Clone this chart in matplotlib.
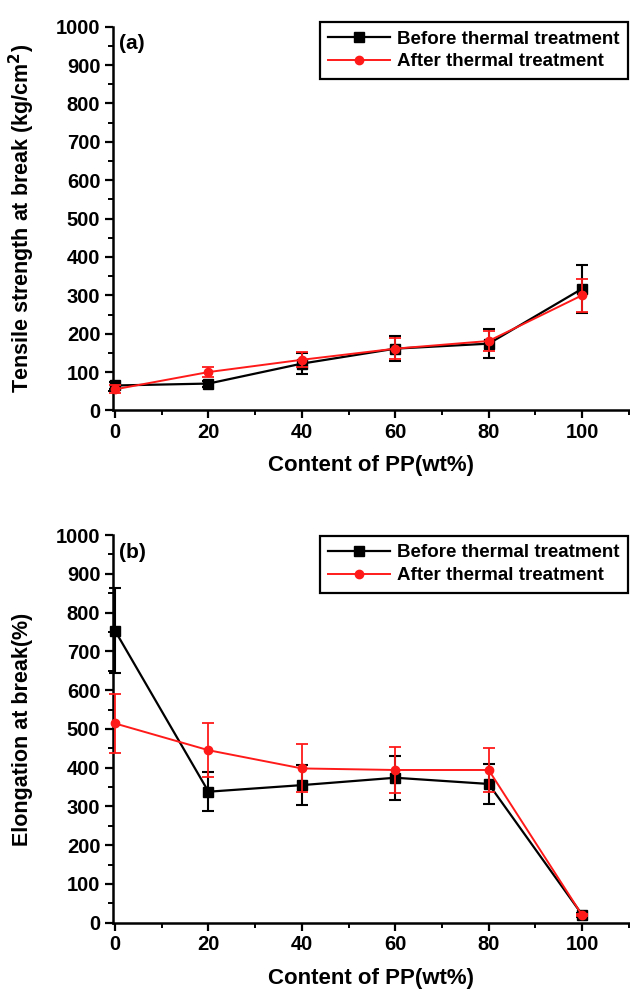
import numpy as np
import matplotlib
matplotlib.use("Agg")
import matplotlib.pyplot as plt
from matplotlib.ticker import MultipleLocator

plt.rcParams["font.family"] = ["Liberation Sans", "DejaVu Sans"]
plt.rcParams["font.weight"] = "bold"

# data
pp_content = [0, 20, 40, 60, 80, 100]

tensile_before = [65, 70, 122, 161, 174, 317]
tensile_before_err = [10, 8, 27, 32, 37, 63]
tensile_after = [55, 100, 132, 161, 181, 300]
tensile_after_err = [10, 13, 20, 28, 27, 43]

elong_before = [753, 338, 355, 374, 358, 21]
elong_before_err = [110, 50, 52, 57, 52, 5]
elong_after = [514, 445, 398, 394, 394, 20]
elong_after_err = [75, 70, 62, 60, 56, 3]

labels = ["Before thermal treatment", "After thermal treatment"]
x_ticks = [0, 20, 40, 60, 80, 100]
y_ticks = list(range(0, 1001, 100))


def style_axis(ax, ylabel, tag, ylab_x, xlab_y, legend_top, handles):
    ax.set_xlim(-0.5, 110)
    ax.set_ylim(0, 1000)
    ax.set_xticks(x_ticks)
    ax.set_yticks(y_ticks)
    ax.xaxis.set_minor_locator(MultipleLocator(10))
    ax.yaxis.set_minor_locator(MultipleLocator(50))
    for s in ["top", "right"]:
        ax.spines[s].set_visible(False)
    for s in ["left", "bottom"]:
        ax.spines[s].set_linewidth(1.8)
    ax.tick_params(which="major", direction="out", length=6, width=1.6,
                   labelsize=14.5, pad=3)
    ax.tick_params(which="minor", direction="out", length=3.5, width=1.4)
    for lab in ax.get_xticklabels() + ax.get_yticklabels():
        lab.set_fontweight("bold")
    ax.set_xlabel("Content of PP(wt%)", fontsize=16, fontweight="bold")
    ax.set_ylabel(ylabel, fontsize=15.5, fontweight="bold")
    ax.xaxis.set_label_coords(0.5, xlab_y)
    ax.yaxis.set_label_coords(ylab_x, 0.5)
    ax.text(0.012, 0.955, tag, transform=ax.transAxes, fontsize=15,
            fontweight="bold", va="center", ha="left")
    leg = ax.legend(handles, labels, loc="upper right",
                    bbox_to_anchor=(0.998, legend_top),
                    borderaxespad=0, fancybox=False, framealpha=1,
                    edgecolor="black", handlelength=3.3,
                    handletextpad=0.35, borderpad=0.45, labelspacing=0.3,
                    prop={"weight": "bold", "size": 13.5})
    leg.get_frame().set_linewidth(1.6)


def draw(ax, before, before_err, after, after_err):
    b = ax.errorbar(pp_content, before, yerr=before_err, color="black",
                    marker="s", markersize=7, linewidth=1.6, capsize=4,
                    capthick=1.5, elinewidth=1.5, clip_on=False, zorder=3)
    a = ax.errorbar(pp_content, after, yerr=after_err, color="#ff1a1a",
                    marker="o", markersize=6, linewidth=1.4, capsize=4,
                    capthick=1.3, elinewidth=1.3, clip_on=False, zorder=4)
    return [b[0], a[0]]


fig = plt.figure(figsize=(6.3, 9.89), dpi=100)
ax1 = fig.add_axes([0.179, 0.585, 0.819, 0.388])
ax2 = fig.add_axes([0.179, 0.067, 0.819, 0.392])

h1 = draw(ax1, tensile_before, tensile_before_err, tensile_after, tensile_after_err)
style_axis(ax1, "Tensile strength at break (kg/cm$\\mathbf{^2}$)", "(a)",
           -0.147, -0.117, 1.012, h1)

h2 = draw(ax2, elong_before, elong_before_err, elong_after, elong_after_err)
style_axis(ax2, "Elongation at break(%)", "(b)", -0.155, -0.116, 0.998, h2)

fig.savefig("out.png", dpi=100)
